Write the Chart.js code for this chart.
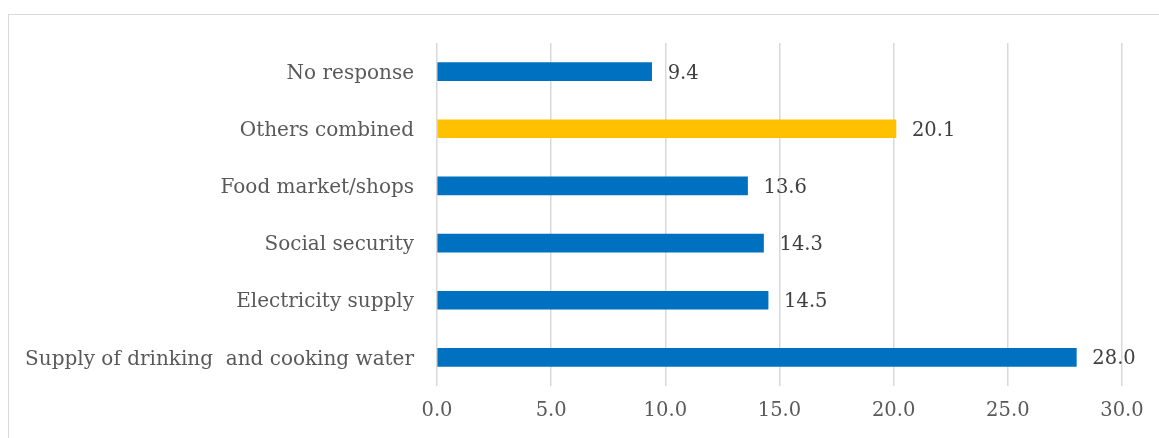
<!DOCTYPE html>
<html><head><meta charset="utf-8">
<script src="https://cdn.jsdelivr.net/npm/chart.js@4/dist/chart.umd.min.js"></script>
<style>
html,body{margin:0;padding:0;background:#fff;overflow:hidden;}
#wrap{position:relative;width:1159px;height:438px;}
#frame{position:absolute;left:8px;top:14px;width:1300px;height:600px;border:1.5px solid #d9d9d9;box-sizing:border-box;}
canvas{position:absolute;left:0;top:0;}
</style></head>
<body><div id="wrap"><div id="frame"></div><canvas id="c" width="1159" height="438"></canvas></div>
<script>
const categories = ["No response", "Others combined", "Food market/shops", "Social security", "Electricity supply", "Supply of drinking  and cooking water"];
const values = [9.4, 20.1, 13.6, 14.3, 14.5, 28.0];
const barColors = ["#0070C0", "#FFC000", "#0070C0", "#0070C0", "#0070C0", "#0070C0"];
const xTicks = [0, 5, 10, 15, 20, 25, 30];

const FONT = "'DejaVu Serif', serif";
const valueLabels = {
  id: 'valueLabels',
  afterDatasetsDraw(chart) {
    const ctx = chart.ctx;
    const meta = chart.getDatasetMeta(0);
    ctx.save();
    ctx.font = "19.5px " + FONT;
    ctx.fillStyle = "#404040";
    ctx.textAlign = "left";
    ctx.textBaseline = "middle";
    meta.data.forEach((bar, i) => {
      ctx.fillText(values[i].toFixed(1), bar.x + 16, bar.y + 2);
    });
    ctx.restore();
  }
};

new Chart(document.getElementById('c'), {
  type: 'bar',
  data: { labels: categories, datasets: [{ data: values, backgroundColor: barColors, barThickness: 18 }] },
  options: {
    indexAxis: 'y',
    responsive: false,
    animation: false,
    layout: { padding: { top: 43, right: 37, left: 0, bottom: 0 } },
    plugins: { legend: { display: false }, tooltip: { enabled: false } },
    scales: {
      x: {
        min: 0, max: 30,
        afterBuildTicks(s) { s.ticks = xTicks.map(v => ({ value: v })); },
        afterFit(s) { s.height = 52; },
        grid: { color: '#d9d9d9', lineWidth: 1.5, drawTicks: false },
        border: { display: false },
        ticks: { padding: 13, color: '#595959', font: { family: FONT, size: 19.5 }, callback: v => Number(v).toFixed(1), maxRotation: 0 }
      },
      y: {
        afterFit(s) { s.width = 437; },
        grid: { display: false, drawTicks: false },
        border: { display: false },
        ticks: { padding: 23, labelOffset: 2, color: '#595959', font: { family: FONT, size: 20 } }
      }
    }
  },
  plugins: [valueLabels]
});
</script></body></html>
